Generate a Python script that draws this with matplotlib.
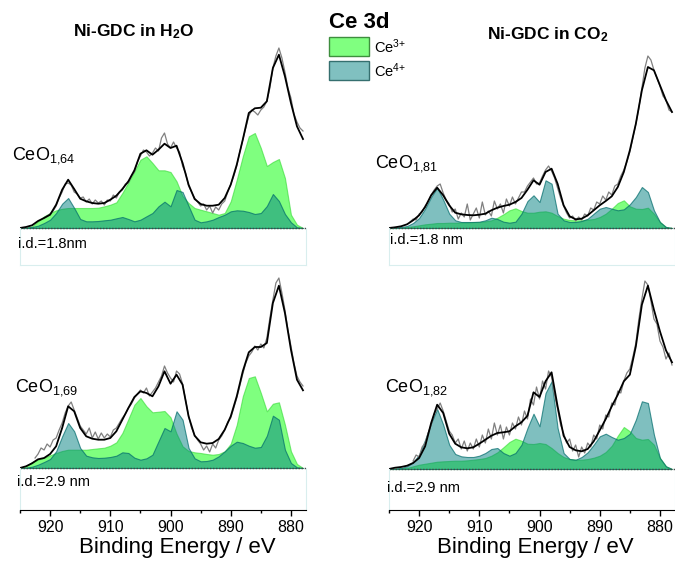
import numpy as np
import matplotlib.pyplot as plt
from matplotlib.patches import Rectangle

plt.rcParams['font.family'] = ['Liberation Sans', 'DejaVu Sans']
plt.rcParams['mathtext.fontset'] = 'custom'
plt.rcParams['mathtext.rm'] = 'Liberation Sans'
plt.rcParams['mathtext.bf'] = 'Liberation Sans:bold'
plt.rcParams['mathtext.default'] = 'regular'

# =============================================================================
#                           data
# =============================================================================

# fit envelope and components, 925 -> 878 eV in 1 eV steps
h2o_18_fit = [0, 1, 2.7, 7, 10, 13.3, 23.3, 38.3, 48.3, 39, 29.3, 26.7, 25, 24.3, 25, 28.3,
              32.3, 39, 46.7, 57.7, 74.3, 77.7, 73.3, 78.3, 84.3, 80, 82.3, 65, 43.3, 29, 24,
              22.3, 22.3, 23.3, 30, 43.3, 63.3, 88.3, 115, 119.7, 120.3, 126.7, 160, 173.3,
              151.7, 125, 101.7, 89]
h2o_18_ce3 = [0, 0.3, 1.7, 6.7, 11.7, 15, 17.7, 19.3, 20, 20, 20, 20, 20, 20.3, 21.7, 23.3,
              25.7, 35, 45.7, 56.7, 68.3, 71.7, 65, 57.7, 57.7, 56, 46.7, 32, 25, 20, 18.3,
              16.7, 15, 13.3, 15, 26.7, 48.3, 71.7, 91.7, 95, 80, 62, 66, 69, 50, 13.3, 3.3, 0]
h2o_18_ce4 = [0, 0.3, 1, 2.3, 5, 8.3, 15, 24.3, 30, 20, 9, 6.7, 6.7, 7, 7.7, 8.3, 9.7, 11, 9,
              6.7, 8.3, 11.7, 15, 21.7, 26.3, 21.7, 38, 36, 22, 8.3, 5.7, 6.7, 8.3, 11, 13.3,
              16.7, 17.7, 17.3, 16, 14, 15, 22, 34, 27, 14, 5.7, 0.7, 0]
# raw spectrum, 921 -> 878 eV in 0.5 eV steps
h2o_18_raw = [10, 12, 14, 17, 22, 30, 36, 44, 45, 43, 36, 34, 30, 31, 26, 29, 24, 28, 25, 27,
              23, 28, 27, 33, 30, 36, 38, 44, 45, 52, 56, 66, 72, 78, 76, 72, 75, 80, 77, 90,
              95, 84, 80, 86, 80, 76, 62, 55, 42, 36, 30, 26, 22, 24, 18, 22, 15, 21, 18, 24,
              27, 36, 44, 52, 62, 76, 88, 100, 112, 118, 116, 113, 118, 121, 127, 140, 160,
              172, 180, 170, 156, 140, 130, 114, 106, 100, 97]

co2_18_fit = [0, 0.7, 1.7, 3.7, 7.7, 12.7, 21, 32.7, 40.3, 32.7, 22.7, 15.3, 13.7, 13, 12.7,
              13.3, 14.3, 17.7, 20.3, 22, 23.3, 26, 30, 38.3, 47.7, 43.3, 56, 59.3, 44.3, 22.7,
              11.7, 8.7, 9.3, 12.7, 17.7, 22.7, 27, 31.7, 41, 56, 77.7, 104.3, 137.7, 161,
              157.7, 142.7, 127.7, 116]
co2_18_ce3 = [0, 0, 0.3, 1, 1.7, 2.7, 3.7, 4.3, 5, 5, 5.3, 5.3, 5.7, 5.7, 6, 6, 6.7, 7.7, 10.3,
              13.7, 17.7, 19.7, 17, 15.3, 15.3, 16.3, 16.7, 15.3, 12, 9.3, 8, 7.7, 7.7, 8.3, 9,
              11, 14.3, 19.3, 25, 27.7, 21.7, 19.3, 19, 20.3, 14.3, 6, 1, 0]
co2_18_ce4 = [0, 0.3, 1, 2, 5, 10, 19.3, 31, 40.3, 28.3, 14.3, 7.7, 6, 6, 6, 6.3, 7.7, 10.3, 9,
              6.3, 5.3, 6.3, 14.3, 27, 32.7, 26, 47.7, 44.3, 14.3, 7.7, 6, 6, 7, 9.3, 14.3,
              19.3, 21, 19.3, 17.7, 18.7, 23.7, 31, 41, 36, 17.7, 6, 1, 0]
# 921.5 -> 878 eV
co2_18_raw = [6, 9, 8, 14, 16, 22, 26, 33, 38, 42, 44, 35, 28, 24, 16, 19, 9, 15, 11, 24, 8,
              14, 20, 10, 26, 13, 17, 12, 27, 19, 24, 15, 29, 22, 31, 24, 30, 36, 36, 42, 46,
              50, 44, 45, 52, 58, 62, 57, 50, 40, 30, 22, 15, 10, 12, 7, 11, 8, 14, 12, 20, 18,
              26, 24, 32, 28, 36, 33, 42, 44, 52, 58, 66, 76, 90, 104, 120, 140, 160, 172, 168,
              158, 150, 142, 132, 128, 118, 116]

h2o_29_fit = [0, 1.7, 4.7, 8.7, 10, 14, 21.7, 40, 61.7, 56.7, 40, 31.7, 29.3, 28.3, 28.3, 30,
              36.7, 48.3, 60, 71, 76.7, 75, 71.7, 81.7, 96.7, 84.3, 93.3, 83.3, 51.7, 32.3, 25.7,
              24.3, 25, 29, 38.3, 51.7, 71.7, 96.7, 115.7, 121, 121, 125, 165, 182.3, 155,
              118.3, 88.3, 77.7]
h2o_29_ce3 = [0, 2, 6, 8.3, 10.3, 12.7, 15, 17, 18.3, 18.3, 18.3, 18.3, 19, 19.7, 20.3, 22.3,
              25.7, 35, 49, 63.3, 70, 61.7, 55.7, 56.3, 57, 50.7, 34.3, 21.7, 17, 15.7, 15, 14,
              13.3, 14, 16.7, 24.3, 43.3, 71.7, 90, 91.7, 75, 56.7, 64.3, 65.7, 43.3, 16.7, 4, 0]
h2o_29_ce4 = [0, 0.3, 1.3, 3.3, 6, 9, 16.7, 31.7, 45, 36.7, 20, 12.3, 10.7, 10, 10.3, 11, 12.3,
              15.7, 15, 10.3, 8.3, 9.7, 13.3, 26.7, 40, 36.7, 56.7, 48.3, 20, 9.7, 6.7, 7, 8.3,
              11.7, 16.7, 22.3, 26.3, 25, 22.3, 20.3, 21, 32.3, 52.3, 48.3, 18.3, 5, 0.7, 0]
# 922.5 -> 878 eV
h2o_29_raw = [10, 14, 20, 18, 24, 21, 28, 30, 38, 45, 55, 62, 66, 58, 50, 42, 38, 34, 40, 30,
              36, 29, 35, 30, 34, 31, 38, 40, 45, 50, 54, 60, 64, 70, 74, 78, 75, 80, 72, 76,
              80, 86, 92, 102, 95, 90, 86, 97, 94, 84, 68, 52, 40, 33, 28, 24, 18, 22, 16, 24,
              20, 28, 32, 38, 46, 50, 60, 70, 82, 94, 105, 112, 116, 122, 118, 124, 120, 130,
              150, 168, 185, 190, 175, 158, 138, 122, 105, 92, 86, 82]

co2_29_fit = [0, 1.3, 2, 3.3, 6, 11, 22.7, 46, 64.3, 56, 35.3, 25.3, 21.7, 20.7, 21.7, 25.3,
              29.3, 33.3, 36, 36.7, 37.7, 42.7, 46.7, 53.3, 76.7, 72, 87.7, 96.7, 62.7, 33.3, 22,
              18.7, 17.7, 20, 27.7, 38.7, 50, 62.7, 74.3, 87.7, 94.3, 122.7, 164.3, 183.3,
              159.3, 137.7, 118.7, 106.7]
co2_29_ce3 = [0, 0.3, 0.7, 1, 2.7, 4.3, 5.3, 6.3, 7.3, 7.7, 8, 8.3, 8.3, 8.7, 9.3, 10, 11,
              13.3, 16.7, 21.7, 27, 30.3, 28.3, 25.3, 25, 26, 25, 21, 16, 12, 10, 9.3, 9.3, 10,
              11.3, 13.3, 17, 23.3, 33.3, 42, 37.7, 31, 29.3, 30, 24.3, 11, 2.7, 0]
co2_29_ce4 = [0, 0.3, 1, 2.7, 6.7, 14.3, 29.3, 46, 60, 44.3, 24.3, 15, 12.7, 12, 12, 13.3, 16,
              20, 21, 16, 13.3, 16, 24.3, 41, 55.3, 42.7, 76, 87.7, 41, 16, 10, 9.3, 12, 16.7,
              24.3, 32.7, 35.3, 32, 29.3, 31, 35.3, 49.3, 67.7, 66, 34.3, 11, 2.7, 0]
# 921 -> 878 eV
co2_29_raw = [8, 14, 12, 22, 26, 36, 44, 55, 60, 66, 58, 48, 38, 34, 26, 30, 20, 28, 18, 26,
              20, 30, 22, 34, 26, 40, 30, 46, 34, 44, 30, 42, 34, 46, 40, 52, 44, 58, 50, 70,
              64, 82, 70, 88, 80, 98, 92, 74, 60, 44, 36, 26, 30, 18, 24, 12, 22, 16, 26, 22,
              34, 30, 44, 40, 54, 52, 66, 64, 78, 76, 88, 96, 100, 112, 126, 150, 170, 188, 184,
              168, 150, 145, 128, 122, 110, 116, 104]

raw_start = [921, 921.5, 922.5, 921]
stoich = ['CeO$_{1{,}64}$', 'CeO$_{1{,}81}$', 'CeO$_{1{,}69}$', 'CeO$_{1{,}82}$']
depth = ['i.d.=1.8nm', 'i.d.=1.8 nm', 'i.d.=2.9 nm', 'i.d.=2.9 nm']
titles = ['Ni-GDC in H$_\\mathbf{2}$O', 'Ni-GDC in CO$_\\mathbf{2}$']
major_ticks = [920, 910, 900, 890, 880]
minor_ticks = [925, 915, 905, 895, 885]

# =============================================================================
#                               Plotting
# =============================================================================

W, H = 675, 563
c_pale = '#d9eeee'

fig = plt.figure(figsize=(W / 100, H / 100), dpi=100)


def px_text(x, y, s, **kw):
    return fig.text(x / W, 1 - y / H, s, **kw)


# (fit, ce3, ce4, raw, left, top, bottom, baseline) in figure pixels
lPanels = [
    (h2o_18_fit, h2o_18_ce3, h2o_18_ce4, h2o_18_raw, 20, 40, 265, 228),
    (co2_18_fit, co2_18_ce3, co2_18_ce4, co2_18_raw, 389, 40, 265, 228),
    (h2o_29_fit, h2o_29_ce3, h2o_29_ce4, h2o_29_raw, 20, 265, 510, 468),
    (co2_29_fit, co2_29_ce3, co2_29_ce4, co2_29_raw, 389, 265, 510, 469),
]

for i, (fit, ce3, ce4, raw, left, top, bottom, base) in enumerate(lPanels):
    ax = fig.add_axes([left / W, 1 - bottom / H, 286 / W, (bottom - top) / H])
    ax.patch.set_alpha(0)
    aE = np.linspace(925, 878, len(fit))
    aE_raw = np.linspace(raw_start[i], 878, len(raw))

    ax.fill_between(aE, ce3, facecolor=(0, 1, 0, 0.5), edgecolor=(0.2, 0.85, 0.2, 0.6), lw=0.8)
    ax.fill_between(aE, ce4, facecolor=(0, 0.5, 0.5, 0.5), edgecolor=(0, 0.42, 0.42, 0.7), lw=0.8)
    ax.plot(aE_raw, raw, color='#808080', lw=0.9)
    ax.plot(aE, fit, color='k', lw=1.3)
    ax.axhline(0, color='#444444', ls=(0, (1, 1.2)), lw=1.0)

    ax.set_xlim(925, 877.5)
    ax.set_ylim(-(bottom - base), base - top)
    ax.set_yticks([])
    ax.spines['top'].set_visible(False)
    for side in ['left', 'right']:
        ax.spines[side].set_color(c_pale)
        ax.spines[side].set_bounds(-(bottom - base), 0)
    if i < 2:
        ax.spines['bottom'].set_color(c_pale)
        ax.set_xticks([])
    else:
        ax.set_xticks(major_ticks)
        ax.set_xticks(minor_ticks, minor=True)
        ax.tick_params(axis='x', which='major', direction='out', length=4, width=1,
                       labelsize=11.5, pad=3)
        ax.tick_params(axis='x', which='minor', direction='out', length=2.5, width=1)

# titles, legend and labels
px_text(134, 32, titles[0], ha='center', va='center', fontsize=12.5, weight='bold')
px_text(548, 35, titles[1], ha='center', va='center', fontsize=12.5, weight='bold')

px_text(329, 23, 'Ce 3d', ha='left', va='center', fontsize=16, weight='bold')
fig.patches.append(Rectangle((329 / W, 1 - 56 / H), 40 / W, 19 / H, transform=fig.transFigure,
                             facecolor='#80ff80', edgecolor='#3e8e3e', lw=1))
fig.patches.append(Rectangle((329 / W, 1 - 80 / H), 40 / W, 19 / H, transform=fig.transFigure,
                             facecolor='#80c0c0', edgecolor='#356f6f', lw=1))
px_text(374, 47, 'Ce$^{3{+}}$', ha='left', va='center', fontsize=10.5)
px_text(374, 71, 'Ce$^{4{+}}$', ha='left', va='center', fontsize=10.5)

lStoichPos = [(12, 160), (375, 168), (15, 392), (385, 392)]
for s, (x, y) in zip(stoich, lStoichPos):
    px_text(x, y, s, ha='left', va='baseline', fontsize=13)

lDepthPos = [(18, 244), (390, 240), (17, 482), (387, 488)]
for s, (x, y) in zip(depth, lDepthPos):
    px_text(x, y, s, ha='left', va='center', fontsize=10.5)

px_text(177, 548, 'Binding Energy / eV', ha='center', va='center', fontsize=16)
px_text(535, 548, 'Binding Energy / eV', ha='center', va='center', fontsize=16)

fig.savefig('out.png', dpi=100)
